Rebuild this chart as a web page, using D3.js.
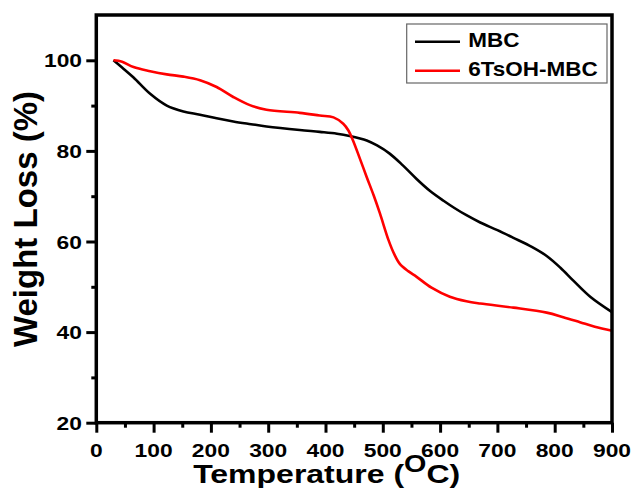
<!DOCTYPE html>
<html>
<head>
<meta charset="utf-8">
<script src="https://cdn.jsdelivr.net/npm/d3@7"></script>
<style>
  html, body { margin: 0; padding: 0; background: #fff; }
  svg { display: block; }
  text { font-family: "Liberation Sans", Arial, sans-serif; font-weight: bold; fill: #000; }
</style>
</head>
<body>
<svg id="chart" width="634" height="493"></svg>
<script>
// TGA curves: temperature (°C) and remaining weight (%)
const tempMBC = [30, 45, 65, 94, 123, 152, 181, 210, 239, 270, 297, 355, 390, 420, 442, 472, 490, 512, 535, 559, 582, 606, 625, 646, 670, 700, 728, 760, 786, 810, 833, 862, 900];
const weightMBC = [100, 98.4, 96.2, 92.6, 90.0, 88.7, 88.0, 87.2, 86.5, 85.9, 85.4, 84.6, 84.2, 83.8, 83.3, 82.3, 81.2, 79.4, 76.8, 73.8, 71.2, 69.0, 67.4, 65.8, 64.2, 62.5, 60.8, 58.8, 56.8, 54.2, 51.3, 47.8, 44.4];

const tempTs = [30, 45, 65, 94, 123, 152, 181, 210, 239, 268, 297, 355, 390, 414, 431, 440, 448, 460, 472, 484, 495, 510, 520, 530, 545, 559, 585, 617, 646, 670, 728, 786, 815, 844, 870, 900];
const weightTs = [100, 99.7, 98.5, 97.6, 96.9, 96.4, 95.6, 94.1, 91.9, 90.1, 89.1, 88.4, 87.8, 87.4, 86.0, 84.5, 82.3, 78.3, 74.2, 70.2, 66.2, 60.3, 57.2, 55.0, 53.4, 52.2, 49.8, 47.8, 46.8, 46.3, 45.4, 44.3, 43.3, 42.2, 41.2, 40.3];

const seriesNames = ["MBC", "6TsOH-MBC"];
const seriesColors = ["#000000", "#ff0000"];

const xTicks = [0, 100, 200, 300, 400, 500, 600, 700, 800, 900];
const xMinor = [50, 150, 250, 350, 450, 550, 650, 750, 850];
const yTicks = [20, 40, 60, 80, 100];
const yMinor = [30, 50, 70, 90];

const svg = d3.select("#chart");
const plotLeft = 96.3, plotRight = 612, plotTop = 15, plotBottom = 422.7;

const x = d3.scaleLinear().domain([0, 900]).range([plotLeft, plotRight]);
const y = d3.scaleLinear().domain([20, 110]).range([plotBottom, plotTop]);

// Stretch a text element horizontally by a factor, keeping its anchor
function widen(sel, factor) {
  sel.each(function () {
    const w = this.getComputedTextLength();
    d3.select(this).attr("textLength", w * factor).attr("lengthAdjust", "spacingAndGlyphs");
  });
}

// Curves
const line = d3.line().x(d => x(d[0])).y(d => y(d[1])).curve(d3.curveCatmullRom.alpha(0.5));
const series = [
  d3.zip(tempMBC, weightMBC),
  d3.zip(tempTs, weightTs)
];
series.forEach((pts, i) => {
  svg.append("path")
    .attr("d", line(pts))
    .attr("fill", "none")
    .attr("stroke", seriesColors[i])
    .attr("stroke-width", 2.6)
    .attr("stroke-linejoin", "round");
});

// Axes ticks
const tickStyle = g => {
  g.select(".domain").remove();
  g.selectAll("line").attr("stroke", "#000").attr("stroke-width", 3);
  g.selectAll("text").remove();
};
svg.append("g").attr("transform", `translate(0,${plotBottom})`)
  .call(d3.axisBottom(x).tickValues(xTicks).tickSize(10)).call(tickStyle);
svg.append("g").attr("transform", `translate(0,${plotBottom})`)
  .call(d3.axisBottom(x).tickValues(xMinor).tickSize(5)).call(tickStyle);
svg.append("g").attr("transform", `translate(${plotLeft},0)`)
  .call(d3.axisLeft(y).tickValues(yTicks).tickSize(10)).call(tickStyle);
svg.append("g").attr("transform", `translate(${plotLeft},0)`)
  .call(d3.axisLeft(y).tickValues(yMinor).tickSize(5)).call(tickStyle);

// Frame
svg.append("rect")
  .attr("x", plotLeft).attr("y", plotTop)
  .attr("width", plotRight - plotLeft).attr("height", plotBottom - plotTop)
  .attr("fill", "none").attr("stroke", "#000").attr("stroke-width", 3.5);

// Tick labels
svg.append("g").selectAll("text").data(xTicks).join("text")
  .attr("x", d => x(d)).attr("y", 456.7)
  .attr("text-anchor", "middle").attr("font-size", 19)
  .text(d => d).call(widen, 1.2);
svg.append("g").selectAll("text").data(yTicks).join("text")
  .attr("x", 82).attr("y", d => y(d) + 7)
  .attr("text-anchor", "end").attr("font-size", 19)
  .text(d => d).call(widen, 1.2);

// Axis titles
const xt = svg.append("text")
  .attr("x", 326.7).attr("y", 483.3)
  .attr("text-anchor", "middle").attr("font-size", 25.6)
  .attr("transform", "translate(326.7,0) scale(1.25,1) translate(-326.7,0)");
xt.append("tspan").text("Temperature (");
xt.append("tspan").attr("font-size", 23).attr("dy", -11).text("O");
xt.append("tspan").attr("dy", 11).text("C)");

svg.append("text")
  .attr("transform", "translate(37,219) rotate(-90)")
  .attr("text-anchor", "middle").attr("font-size", 33)
  .text("Weight Loss (%)");

// Legend
const lg = svg.append("g");
lg.append("rect")
  .attr("x", 406.7).attr("y", 24).attr("width", 200.3).attr("height", 59)
  .attr("fill", "#fff").attr("stroke", "#666").attr("stroke-width", 1.2);
const legY = [41.7, 70.7];
seriesNames.forEach((name, i) => {
  lg.append("line")
    .attr("x1", 415).attr("x2", 460).attr("y1", legY[i]).attr("y2", legY[i])
    .attr("stroke", seriesColors[i]).attr("stroke-width", 2.6);
  lg.append("text")
    .attr("x", 468.3).attr("y", legY[i] + 5.5)
    .attr("font-size", 21)
    .text(name).call(widen, 1.07);
});
</script>
</body>
</html>
